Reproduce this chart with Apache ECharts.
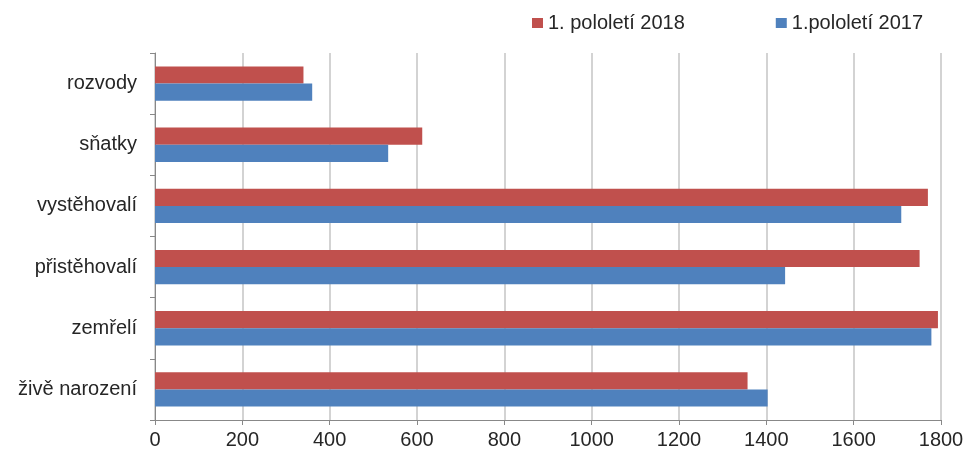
<!DOCTYPE html>
<html><head><meta charset="utf-8">
<script src="https://cdn.jsdelivr.net/npm/echarts@6/dist/echarts.min.js"></script>
<style>html,body{margin:0;padding:0;background:#fff}#c{width:967px;height:454px}</style>
</head><body><div id="c"></div>
<script>
const categories = ['živě narození','zemřelí','přistěhovalí','vystěhovalí','sňatky','rozvody'];
const values2017 = [1403, 1778, 1443, 1709, 534, 360];
const values2018 = [1357, 1793, 1751, 1770, 612, 340];
const xTicks = [0, 200, 400, 600, 800, 1000, 1200, 1400, 1600, 1800];
const name2018 = '1. pololetí 2018';
const name2017 = '1.pololetí 2017';

const chart = echarts.init(document.getElementById('c'));
chart.setOption({
  animation: false,
  textStyle: {fontFamily: 'Liberation Sans, Arial, sans-serif'},
  legend: {
    data: [name2018, name2017],
    left: 527, top: 8,
    itemWidth: 11, itemHeight: 10, itemGap: 91,
    icon: 'rect',
    textStyle: {fontSize: 20, color: '#262626', fontFamily: 'Liberation Sans'}
  },
  grid: {left: 155, right: 26, top: 53, bottom: 34, containLabel: false},
  xAxis: {
    type: 'value', min: xTicks[0], max: xTicks[xTicks.length-1], interval: 200,
    axisLine: {show: true, lineStyle: {color: '#888', width: 1}},
    axisTick: {show: true, length: 5, lineStyle: {color: '#888'}},
    axisLabel: {fontSize: 20, color: '#262626', margin: 10, fontFamily: 'Liberation Sans',
      formatter: v => String(v)},
    splitLine: {show: true, lineStyle: {color: '#c4c4c4', width: 1.5}}
  },
  yAxis: {
    type: 'category', data: categories,
    axisLine: {show: true, lineStyle: {color: '#888', width: 1}},
    axisTick: {show: true, length: 5, lineStyle: {color: '#888'}},
    axisLabel: {fontSize: 20, color: '#262626', margin: 18, fontFamily: 'Liberation Sans'},
    splitLine: {show: false}
  },
  series: [
    {name: name2018, type: 'bar', data: values2018, barGap: '0%', barCategoryGap: '44%',
     itemStyle: {color: '#C0504D'}},
    {name: name2017, type: 'bar', data: values2017, barGap: '0%', barCategoryGap: '44%',
     itemStyle: {color: '#4F81BD'}}
  ]
});
</script></body></html>
